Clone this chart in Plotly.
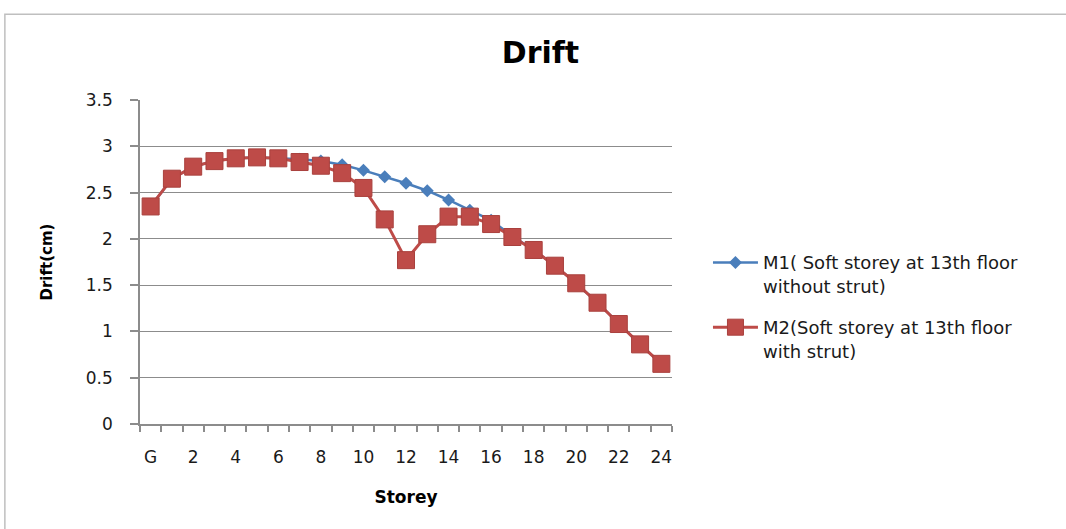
import plotly.graph_objects as go

# ---- data ----
storeys = ["G"] + [str(i) for i in range(1, 25)]
m1_drift = [2.35, 2.65, 2.78, 2.84, 2.87, 2.88, 2.87, 2.86, 2.84, 2.80, 2.74, 2.67, 2.60,
            2.52, 2.42, 2.31, 2.20, 2.03, 1.88, 1.71, 1.52, 1.31, 1.08, 0.86, 0.65]
m2_drift = [2.35, 2.65, 2.78, 2.84, 2.87, 2.88, 2.87, 2.83, 2.79, 2.71, 2.55, 2.21, 1.77,
            2.05, 2.24, 2.24, 2.16, 2.02, 1.88, 1.71, 1.52, 1.31, 1.08, 0.86, 0.65]
m1_name = "M1( Soft storey at 13th floor<br>without strut)"
m2_name = "M2(Soft storey at 13th floor<br>with strut)"
x_tick_labels = storeys[::2]
y_tick_values = [0, 0.5, 1, 1.5, 2, 2.5, 3, 3.5]

x_idx = list(range(len(storeys)))
x_tick_pos = x_idx[::2]

FONT = "DejaVu Sans"
TXT = "#1a1a1a"
GRID = "#8c8c8c"

fig = go.Figure()
fig.add_trace(go.Scatter(
    x=x_idx, y=m1_drift, name=m1_name, mode="lines+markers", legendgroup="m1",
    line=dict(color="#4A7EBB", width=2.5),
    marker=dict(symbol="diamond", size=10, color="#4A7EBB"),
))
fig.add_trace(go.Scatter(
    x=x_idx, y=m2_drift, name=m2_name, mode="lines+markers", legendgroup="m2",
    line=dict(color="#BE4B48", width=3),
    marker=dict(symbol="square", size=17, color="#BE4B48",
                line=dict(color="#A9403D", width=1)),
))

fig.update_layout(
    width=1066, height=529,
    paper_bgcolor="white", plot_bgcolor="white",
    margin=dict(l=140, r=394, t=100, b=105),
    font=dict(family=FONT, color=TXT),
    title=dict(text="<b>Drift</b>", x=0.507, xanchor="center", y=0.9, yanchor="middle",
               font=dict(size=30, family=FONT, color="#000")),
    showlegend=True,
    legend=dict(x=1.0676, xanchor="left", y=0.555, yanchor="top",
                font=dict(size=18, family=FONT, color=TXT),
                valign="top", itemwidth=45, traceorder="grouped", tracegroupgap=15,
                bgcolor="rgba(0,0,0,0)"),
    shapes=[dict(type="rect", xref="paper", yref="paper",
                 x0=-0.254, x1=1.9, y0=-0.6, y1=1.265,
                 line=dict(color="#BFBFBF", width=1.5), layer="below")],
)

fig.update_xaxes(
    range=[-0.5, len(storeys) - 0.5],
    tickmode="array", tickvals=x_tick_pos, ticktext=x_tick_labels,
    ticks="", showgrid=False, zeroline=False,
    showline=True, linecolor=GRID, linewidth=1.5,
    minor=dict(ticks="outside", tick0=-0.5, dtick=1, ticklen=6,
               tickcolor=GRID, tickwidth=1.5, showgrid=False),
    tickfont=dict(size=17, family=FONT, color=TXT),
    ticklabelstandoff=17,
    title=dict(text="<b>Storey</b>", font=dict(size=17, family=FONT, color="#000"), standoff=25),
)
fig.update_yaxes(
    range=[0, 3.5], tickmode="array", tickvals=y_tick_values,
    ticktext=[f"{v:g}" for v in y_tick_values],
    ticks="outside", ticklen=8, tickcolor=GRID, tickwidth=1.5,
    showgrid=True, gridcolor=GRID, gridwidth=1.2, zeroline=False,
    showline=True, linecolor=GRID, linewidth=1.5,
    tickfont=dict(size=17, family=FONT, color=TXT),
    ticklabelstandoff=14,
    title=dict(text="<b>Drift(cm)</b>", font=dict(size=15, family=FONT, color="#000"), standoff=30),
)

fig.write_html("out.html", config={"displayModeBar": False},
               post_script="document.body.style.margin='0';document.body.style.overflow='hidden';")
